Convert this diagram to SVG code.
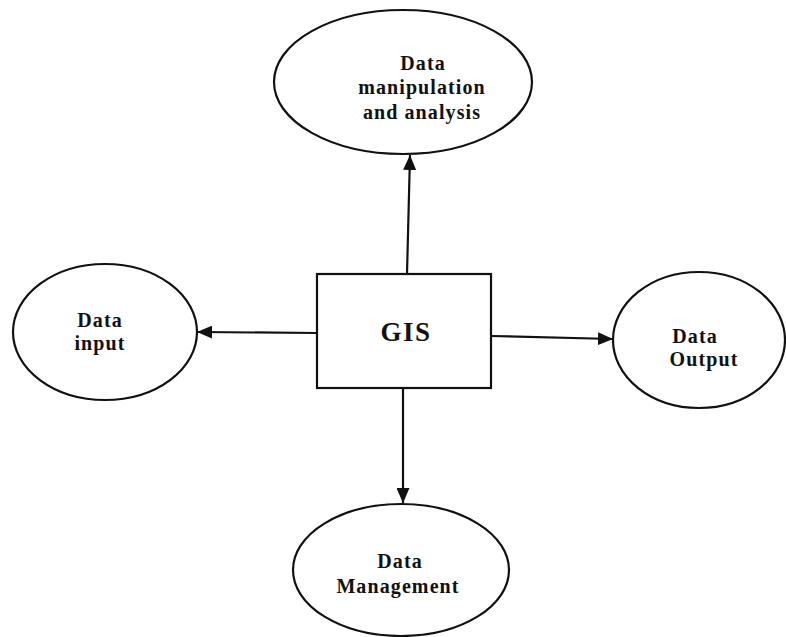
<svg xmlns="http://www.w3.org/2000/svg" width="786" height="637" viewBox="0 0 786 637">
  <style>
    .shape { fill: #fff; stroke: #111; stroke-width: 2.2; }
    .link { stroke: #111; stroke-width: 2.2; fill: none; }
    .label { font-family: "Liberation Serif", "Times New Roman", serif; font-weight: bold; font-size: 20px; fill: #111; text-anchor: middle; letter-spacing: 1.1px; }
    .title { font-family: "Liberation Serif", "Times New Roman", serif; font-weight: bold; font-size: 27px; fill: #111; text-anchor: middle; letter-spacing: 1.5px; }
  </style>
  <defs>
    <marker id="arrow" viewBox="0 0 15 13" refX="15" refY="6.5" markerWidth="15" markerHeight="13" markerUnits="userSpaceOnUse" orient="auto">
      <path d="M0,0 L15,6.5 L0,13 Z" fill="#111"/>
    </marker>
  </defs>
  <rect width="786" height="637" fill="#fff"/>

  <g id="connectors">
    <line class="link" x1="407" y1="274" x2="410" y2="155" marker-end="url(#arrow)"/>
    <line class="link" x1="317" y1="333" x2="197" y2="332" marker-end="url(#arrow)"/>
    <line class="link" x1="491" y1="336" x2="613" y2="339" marker-end="url(#arrow)"/>
    <line class="link" x1="403" y1="388" x2="403" y2="503" marker-end="url(#arrow)"/>
  </g>

  <g id="node-gis">
    <rect class="shape" x="317" y="274" width="174" height="114"/>
    <text class="title" x="406" y="341">GIS</text>
  </g>

  <g id="node-manipulation">
    <ellipse class="shape" cx="403" cy="82" rx="129" ry="72"/>
    <text class="label" x="423" y="70">Data</text>
    <text class="label" x="422" y="94">manipulation</text>
    <text class="label" x="422" y="119">and analysis</text>
  </g>

  <g id="node-input">
    <ellipse class="shape" cx="105" cy="332" rx="92" ry="68"/>
    <text class="label" x="100" y="327">Data</text>
    <text class="label" x="100" y="350">input</text>
  </g>

  <g id="node-output">
    <ellipse class="shape" cx="699" cy="340" rx="86" ry="68"/>
    <text class="label" x="695" y="343">Data</text>
    <text class="label" x="704" y="366">Output</text>
  </g>

  <g id="node-management">
    <ellipse class="shape" cx="401" cy="570" rx="108" ry="66"/>
    <text class="label" x="400" y="568">Data</text>
    <text class="label" x="398" y="593">Management</text>
  </g>
</svg>
